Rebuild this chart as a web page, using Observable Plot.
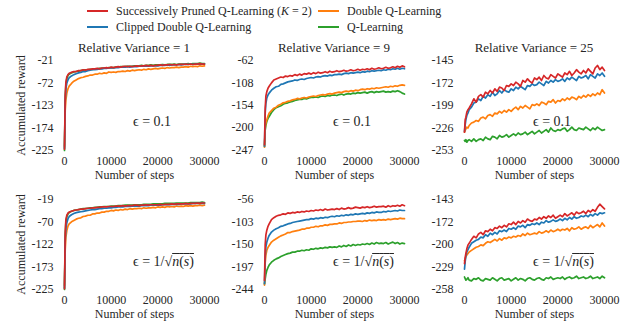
<!DOCTYPE html>
<html><head><meta charset="utf-8">
<script src="https://cdn.jsdelivr.net/npm/d3@7"></script>
<script src="https://cdn.jsdelivr.net/npm/@observablehq/plot@0.6"></script>
<style>
body{margin:0;background:#fff;}
#c{position:relative;width:638px;height:327px;font-family:"Liberation Serif",serif;color:#262626;overflow:hidden;}
.abs{position:absolute;white-space:nowrap;line-height:1;}
.sw{position:absolute;height:2px;width:21px;}
.lg{font-size:12px;transform:translateY(-50%);}
.tt{font-size:13px;transform:translate(-50%,-50%);}
.an{font-size:14px;transform:translateY(-50%);}
.ov{text-decoration:overline;}
svg{position:absolute;overflow:visible;}
</style></head><body><div id="c"></div>
<script>
const FONT = '"Liberation Serif",serif';
const steps = [0,150,300,500,750,1000,1500,2000,2500,3000,3500,4000,4500,5000,5500,6000,6500,7000,7500,8000,8500,9000,9500,10000,
10500,11000,11500,12000,12500,13000,13500,14000,14500,15000,
15500,16000,16500,17000,17500,18000,18500,19000,19500,20000,
20500,21000,21500,22000,22500,23000,23500,24000,24500,25000,
25500,26000,26500,27000,27500,28000,28500,29000,29500,30000];

const seriesNames = ["Successively Pruned Q-Learning (K = 2)","Double Q-Learning","Clipped Double Q-Learning","Q-Learning"];
const seriesColors = ["#d62728","#ff7f0e","#1f77b4","#2ca02c"];
const panelTitles = ["Relative Variance = 1","Relative Variance = 9","Relative Variance = 25"];
const xTicks = [0,10000,20000,30000];
const yTicks = [
  [-225,-174,-123,-72,-21],
  [-247,-200,-154,-108,-62],
  [-253,-226,-199,-172,-145],
  [-225,-173,-122,-70,-19],
  [-244,-197,-150,-103,-56],
  [-258,-229,-200,-172,-143]
];

// Panel 1: RV=1, eps=0.1
const p1_spql = [-222,-100,-70,-58,-53,-50,-48,-46,-46,-44,-44,-42,-43,-41,-41,-40,-40,-39,-40,-38,-38,-37,-38,-36,
-37,-36,-35,-36,-35,-34,-35,-34,-35,-34,
-33,-34,-33,-33,-32,-33,-32,-33,-32,-32,
-31,-32,-31,-31,-30,-31,-30,-31,-30,-30,
-30,-29,-30,-29,-30,-29,-29,-28,-29,-29];
const p1_double = [-215,-135,-110,-95,-85,-79,-73,-68,-65,-62,-60,-59,-57,-56,-54,-54,-52,-52,-50,-51,-49,-50,-47,-48,
-47,-48,-46,-46,-45,-46,-44,-45,-43,-44,
-43,-42,-43,-41,-42,-40,-41,-40,-39,-40,
-39,-38,-39,-37,-38,-37,-37,-36,-37,-36,
-36,-35,-36,-34,-35,-34,-35,-33,-34,-33];
const p1_clipped = [-220,-115,-85,-72,-65,-60,-56,-53,-51,-49,-48,-46,-46,-44,-43,-42,-42,-41,-40,-40,-39,-39,-38,-38,
-38,-37,-37,-36,-36,-36,-35,-36,-35,-35,
-35,-34,-34,-34,-33,-34,-33,-33,-33,-33,
-32,-32,-32,-31,-32,-31,-31,-31,-30,-31,
-30,-30,-30,-29,-30,-29,-29,-29,-29,-29];
const p1_q = [-225,-108,-76,-62,-55,-52,-49,-47,-46,-45,-44,-43,-42,-42,-41,-41,-40,-40,-39,-39,-38,-38,-37,-37,
-37,-36,-36,-35,-35,-35,-34,-34,-34,-33,
-33,-33,-32,-33,-32,-32,-31,-32,-31,-31,
-31,-30,-31,-30,-30,-30,-29,-30,-29,-29,
-29,-29,-28,-29,-28,-28,-28,-27,-28,-28];

// Panel 2: RV=9, eps=0.1
const p2_spql = [-235,-160,-135,-126,-119,-115,-108,-102,-100,-98,-96,-97,-94,-95,-93,-94,-91,-93,-90,-92,-89,-90,-88,-90,
-87,-89,-86,-88,-87,-85,-87,-84,-86,-85,
-83,-85,-84,-82,-84,-83,-81,-83,-82,-80,
-82,-80,-81,-79,-81,-78,-80,-79,-77,-79,
-78,-76,-78,-77,-75,-77,-74,-76,-73,-75];
const p2_double = [-240,-200,-190,-184,-176,-170,-165,-160,-158,-154,-152,-149,-148,-146,-145,-143,-142,-140,-141,-139,-138,-139,-137,-136,
-135,-136,-134,-133,-132,-133,-131,-130,-131,-129,
-128,-127,-128,-126,-125,-126,-124,-125,-123,-124,
-122,-121,-122,-120,-121,-119,-120,-118,-119,-118,
-117,-116,-117,-115,-116,-114,-115,-113,-112,-113];
const p2_clipped = [-238,-170,-150,-139,-133,-129,-123,-119,-116,-115,-111,-110,-108,-106,-105,-104,-102,-103,-101,-100,-101,-99,-98,-97,
-98,-96,-95,-96,-94,-93,-94,-92,-93,-91,
-91,-90,-91,-89,-88,-89,-87,-88,-87,-86,
-87,-85,-86,-84,-85,-83,-84,-83,-82,-83,
-81,-82,-80,-81,-79,-80,-78,-80,-78,-79];
const p2_q = [-239,-205,-195,-187,-181,-177,-169,-163,-159,-157,-155,-152,-150,-149,-147,-146,-144,-143,-142,-142,-140,-141,-139,-138,
-138,-137,-138,-136,-135,-136,-134,-135,-133,-133,
-134,-132,-131,-133,-131,-130,-131,-129,-130,-128,
-129,-128,-127,-129,-127,-126,-128,-126,-127,-126,
-125,-127,-126,-127,-125,-126,-124,-126,-129,-131];

// Panel 3: RV=25, eps=0.1
const p3_spql = [-231,-216,-213,-207,-204,-202,-197,-191,-195,-188,-186,-189,-183,-185,-181,-184,-179,-182,-177,-178,-181,-175,-176,-173,
-175,-171,-173,-176,-169,-171,-167,-170,-172,-166,
-168,-165,-169,-163,-166,-167,-162,-164,-166,-161,
-163,-165,-160,-162,-158,-163,-160,-156,-159,-161,
-157,-160,-155,-158,-161,-154,-151,-156,-153,-157];
const p3_double = [-231,-229,-227,-225,-226,-223,-220,-219,-217,-218,-214,-213,-215,-211,-210,-212,-208,-209,-206,-208,-205,-207,-204,-206,
-203,-201,-204,-200,-202,-199,-201,-203,-198,-199,
-197,-199,-195,-196,-198,-194,-195,-192,-196,-193,
-194,-191,-193,-190,-192,-189,-190,-192,-188,-190,
-187,-189,-186,-188,-185,-187,-184,-186,-180,-184];
const p3_clipped = [-230,-222,-216,-211,-208,-204,-201,-196,-195,-191,-193,-188,-190,-186,-188,-183,-187,-185,-181,-184,-180,-182,-183,-179,
-181,-177,-179,-176,-178,-180,-175,-176,-173,-175,
-174,-171,-173,-175,-170,-172,-169,-171,-168,-170,
-169,-167,-170,-166,-168,-165,-167,-169,-164,-166,
-165,-163,-167,-162,-164,-166,-161,-163,-160,-164];
const p3_q = [-241,-242,-240,-243,-241,-240,-242,-239,-242,-240,-239,-241,-237,-239,-240,-236,-237,-239,-235,-237,-236,-234,-237,-235,
-233,-235,-232,-234,-233,-231,-234,-232,-230,-233,
-231,-229,-232,-230,-228,-231,-226,-229,-230,-228,
-229,-227,-226,-230,-228,-225,-228,-229,-226,-227,
-228,-225,-227,-229,-226,-228,-225,-227,-229,-228];

// Panel 4: RV=1, eps=1/sqrt(n(s))
const p4_spql = [-223,-95,-65,-55,-50,-48,-46,-44,-43,-42,-41,-41,-40,-39,-39,-38,-38,-37,-37,-36,-36,-36,-35,-35,
-35,-34,-34,-34,-33,-34,-33,-33,-33,-32,
-32,-33,-32,-32,-31,-32,-31,-31,-31,-31,
-30,-31,-30,-30,-30,-29,-30,-29,-29,-29,
-29,-28,-29,-28,-28,-28,-27,-28,-27,-27];
const p4_double = [-215,-135,-105,-90,-80,-75,-70,-67,-64,-62,-61,-58,-57,-55,-55,-52,-52,-50,-50,-48,-48,-46,-46,-44,
-45,-43,-44,-42,-43,-41,-42,-40,-41,-40,
-40,-39,-40,-38,-39,-38,-38,-37,-38,-36,
-37,-36,-37,-35,-36,-35,-36,-34,-35,-34,
-35,-33,-34,-33,-34,-33,-33,-32,-33,-32];
const p4_clipped = [-222,-115,-85,-72,-63,-58,-54,-51,-49,-48,-47,-46,-45,-44,-43,-42,-42,-41,-40,-40,-39,-39,-38,-38,
-37,-37,-36,-36,-36,-35,-35,-35,-34,-34,
-34,-34,-33,-33,-33,-33,-32,-32,-32,-32,
-32,-31,-31,-31,-31,-30,-30,-30,-30,-29,
-29,-29,-29,-29,-28,-28,-28,-28,-28,-28];
const p4_q = [-225,-102,-70,-58,-52,-49,-46,-44,-43,-42,-41,-40,-40,-39,-38,-38,-37,-37,-36,-36,-35,-35,-35,-34,
-34,-34,-33,-33,-33,-32,-32,-32,-32,-31,
-31,-31,-31,-30,-30,-30,-30,-29,-29,-29,
-29,-29,-28,-28,-28,-28,-28,-27,-27,-27,
-27,-27,-27,-26,-26,-26,-26,-26,-25,-26];

// Panel 5: RV=9, eps=1/sqrt(n(s))
const p5_spql = [-225,-150,-130,-120,-112,-107,-98,-94,-91,-89,-88,-86,-87,-84,-85,-83,-84,-82,-83,-81,-82,-80,-81,-79,
-80,-78,-79,-77,-79,-76,-78,-77,-76,-77,
-75,-77,-74,-76,-75,-73,-75,-74,-72,-73,
-74,-72,-73,-71,-73,-72,-70,-72,-71,-71,
-70,-72,-69,-71,-69,-70,-68,-70,-67,-69];
const p5_double = [-235,-188,-172,-162,-156,-152,-145,-141,-138,-135,-132,-130,-128,-125,-125,-123,-122,-121,-120,-118,-118,-116,-116,-114,
-114,-112,-113,-111,-111,-109,-110,-108,-108,-107,
-107,-105,-106,-104,-104,-103,-103,-102,-102,-101,
-101,-102,-100,-101,-99,-100,-99,-100,-98,-99,
-98,-99,-97,-98,-97,-96,-97,-95,-96,-96];
const p5_clipped = [-232,-175,-155,-145,-137,-131,-124,-120,-117,-115,-112,-111,-109,-107,-106,-104,-103,-102,-101,-100,-99,-98,-98,-96,
-97,-95,-96,-94,-95,-93,-94,-92,-91,-92,
-90,-91,-89,-90,-88,-89,-87,-88,-86,-87,
-86,-85,-86,-84,-85,-83,-84,-82,-83,-83,
-81,-82,-80,-81,-80,-79,-80,-78,-79,-79];
const p5_q = [-233,-222,-212,-204,-198,-193,-187,-183,-180,-178,-175,-173,-171,-169,-168,-166,-166,-164,-164,-162,-163,-161,-162,-159,
-160,-158,-159,-157,-158,-156,-157,-155,-156,-155,
-156,-153,-155,-152,-154,-151,-153,-150,-152,-150,
-151,-149,-150,-148,-150,-147,-149,-146,-148,-147,
-148,-146,-149,-147,-145,-148,-146,-149,-147,-148];

// Panel 6: RV=25, eps=1/sqrt(n(s))
const p6_spql = [-225,-217,-212,-206,-201,-199,-194,-190,-192,-187,-185,-188,-183,-184,-181,-183,-179,-180,-177,-179,-176,-178,-174,-175,
-172,-175,-171,-173,-170,-172,-168,-170,-171,-168,
-169,-166,-168,-165,-167,-164,-166,-163,-167,-165,
-163,-165,-161,-164,-162,-160,-163,-159,-161,-160,
-158,-161,-157,-159,-156,-158,-153,-149,-152,-155];
const p6_double = [-221,-219,-216,-214,-212,-210,-208,-206,-204,-203,-201,-202,-199,-197,-198,-196,-194,-196,-193,-195,-192,-193,-191,-192,
-190,-191,-189,-190,-187,-189,-186,-188,-187,-186,
-187,-184,-186,-185,-183,-185,-182,-184,-183,-181,
-183,-181,-182,-180,-183,-179,-181,-180,-178,-181,
-179,-178,-180,-176,-179,-177,-175,-178,-173,-177];
const p6_clipped = [-232,-222,-215,-210,-207,-204,-199,-197,-195,-194,-191,-192,-188,-190,-186,-188,-185,-187,-183,-184,-182,-184,-180,-181,
-179,-181,-177,-178,-176,-179,-175,-176,-174,-175,
-173,-175,-172,-173,-170,-172,-171,-169,-171,-170,
-168,-170,-167,-169,-166,-168,-165,-167,-166,-164,
-165,-163,-165,-162,-164,-161,-163,-160,-161,-160];
const p6_q = [-242,-244,-246,-245,-243,-246,-247,-244,-245,-243,-246,-247,-244,-245,-246,-243,-245,-247,-244,-243,-246,-245,-244,-247,
-245,-243,-246,-244,-245,-247,-244,-243,-245,-246,
-244,-243,-245,-246,-243,-244,-242,-245,-244,-243,
-244,-242,-245,-243,-242,-244,-243,-241,-244,-243,
-242,-244,-243,-241,-244,-243,-242,-244,-241,-243];

const panels = [
  [p1_spql,p1_double,p1_clipped,p1_q],
  [p2_spql,p2_double,p2_clipped,p2_q],
  [p3_spql,p3_double,p3_clipped,p3_q],
  [p4_spql,p4_double,p4_clipped,p4_q],
  [p5_spql,p5_double,p5_clipped,p5_q],
  [p6_spql,p6_double,p6_clipped,p6_q]
];

const root = document.getElementById("c");
function add(html, cls, left, top){
  const d = document.createElement("div");
  d.className = "abs " + cls;
  d.style.left = left + "px"; d.style.top = top + "px";
  d.innerHTML = html;
  root.appendChild(d);
  return d;
}

const legendPos = [[87,10.5],[318,10.5],[87,27],[318,27]];
[0,1,2,3].forEach((k,i)=>{
  const [lx,ly] = legendPos[i];
  const sw = document.createElement("div");
  sw.className = "sw"; sw.style.left = lx+"px"; sw.style.top = (ly-1)+"px"; sw.style.background = seriesColors[k];
  root.appendChild(sw);
  const name = seriesNames[k].replace("(K = 2)","(<i>K</i> = 2)");
  add(name, "lg", lx+29, ly);
});

const colLeft = [0,200,400];
const W = 212;
const rowTop = [40,180];
const rowH = [145,147];
const rowMT = [20,19];
const rowMB = [35,38];

panels.forEach((ser,p)=>{
  const c = p % 3, r = Math.floor(p/3);
  const t = yTicks[p];
  const marks = [];
  [3,1,2,0].forEach(k=>{
    const data = steps.map((s,i)=>({step:s, reward:ser[k][i]}));
    marks.push(Plot.line(data,{x:"step",y:"reward",stroke:seriesColors[k],strokeWidth:1.7}));
  });
  const svg = Plot.plot({
    width: W, height: rowH[r],
    marginLeft: 64, marginRight: 8, marginTop: rowMT[r], marginBottom: rowMB[r],
    style: {fontFamily:FONT, fontSize:"12px", color:"#262626", background:"transparent"},
    x: {domain:[0,30000], ticks:xTicks, tickFormat:d=>String(d), tickSize:0, tickPadding:6,
        label:"Number of steps", labelAnchor:"center", labelArrow:"none", labelOffset:28},
    y: {domain:[t[0],t[4]], ticks:t, tickFormat:d=>String(d), tickSize:0, tickPadding:11,
        label: c===0 ? "Accumulated reward" : null, labelAnchor:"center", labelArrow:"none", labelOffset:48},
    marks
  });
  svg.style.left = colLeft[c]+"px";
  svg.style.top = rowTop[r]+"px";
  root.appendChild(svg);
  if (r===0) add(panelTitles[c], "tt", colLeft[c]+64+70, 47);
  if (r===0) add("ϵ = 0.1", "an", colLeft[c]+133, 122);
  else add('ϵ = 1/√<span class="ov"><i>n</i>(<i>s</i>)</span>', "an", colLeft[c]+133, 262);
});
</script>
</body></html>
